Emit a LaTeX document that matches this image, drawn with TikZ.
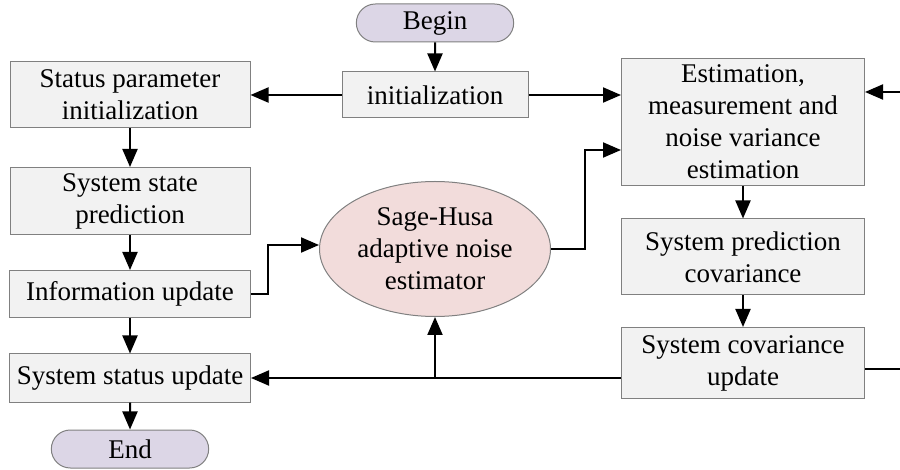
\documentclass[tikz,border=0pt]{standalone}
\usepackage{fontspec}
\setmainfont{Liberation Serif}
\usetikzlibrary{shapes.misc,shapes.geometric,arrows.meta}
\definecolor{boxgray}{RGB}{242,242,242}
\definecolor{termlilac}{RGB}{220,214,230}
\definecolor{ovalpink}{RGB}{242,220,219}
\definecolor{edgegray}{RGB}{128,128,128}

\begin{document}
\begin{tikzpicture}[x=1pt, y=1pt, node distance={100pt}, >={Triangle[length=18pt,width=15pt]},
  font=\rmfamily\fontsize{27}{32}\selectfont,
  main/.style = {draw=edgegray, fill=boxgray, line width=1pt, align=center, inner sep=2pt},
  term/.style = {draw=edgegray, fill=termlilac, line width=1pt, rounded rectangle, minimum width=164pt, minimum height=38pt},
  oval/.style = {draw=edgegray, fill=ovalpink, line width=1pt, ellipse, align=center, minimum width=231pt, minimum height=135pt, inner sep=0pt},
  link/.style = {line width=2pt}]
\useasboundingbox (0,0) rectangle (900,-470);
\node[term] (begin) at (435,-23) {Begin};
\node[main, minimum width=186pt, minimum height=46pt] (init) [below of=begin, node distance=72pt] {initialization};
\node[main, minimum width=240pt, minimum height=66pt] (spi) [left of=init, node distance=305pt] {Status parameter\\initialization};
\node[main, minimum width=240pt, minimum height=67pt] (ssp) [below of=spi, node distance=106pt] {System state\\prediction};
\node[main, minimum width=241pt, minimum height=47pt] (info) [below of=ssp, node distance=93pt] {Information update};
\node[main, minimum width=241pt, minimum height=48pt] (ssu) [below of=info, node distance=84pt] {System status update};
\node[term] (end) [below of=ssu, node distance=71pt] {End};
\node[oval] (sh) [below of=init, node distance=154pt] {Sage-Husa\\adaptive noise\\estimator};
\node[main, minimum width=243pt, minimum height=127pt] (est) [right of=init, node distance=308pt, yshift=-27pt] {Estimation,\\measurement and\\noise variance\\estimation};
\node[main, minimum width=243pt, minimum height=76pt] (pcov) [below of=est, node distance=135pt] {System prediction\\covariance};
\node[main, minimum width=243pt, minimum height=71pt] (cupd) [below of=pcov, node distance=106pt] {System covariance\\update};
\coordinate (rin) at (900,-92);
\coordinate (rout) at (900,-369);
\coordinate (jn) at (sh.south |- ssu.east);
\draw[link,->] (begin) -- (init);
\draw[link,->] (init) -- (spi);
\draw[link,->] (init.east) -- (init.east -| est.west);
\draw[link,->] (rin) -- (rin -| est.east);
\draw[link,->] (spi) -- (ssp);
\draw[link,->] (ssp) -- (info);
\draw[link,->] (info) -- (ssu);
\draw[link,->] (ssu) -- (end);
\draw[link,->] (info.east) -- ++(17,0) |- ([yshift=4pt]sh.west);
\draw[link,->] (sh.east) -- ++(34,0) |- ([yshift=-28pt]est.west);
\draw[link,->] (est) -- (pcov);
\draw[link,->] (pcov) -- (cupd);
\draw[link,->] (cupd.west |- ssu.east) -- (ssu.east);
\draw[link,->] (jn) -- (sh.south);
\draw[link] (cupd.east |- rout) -- (rout);
\end{tikzpicture}
\end{document}
